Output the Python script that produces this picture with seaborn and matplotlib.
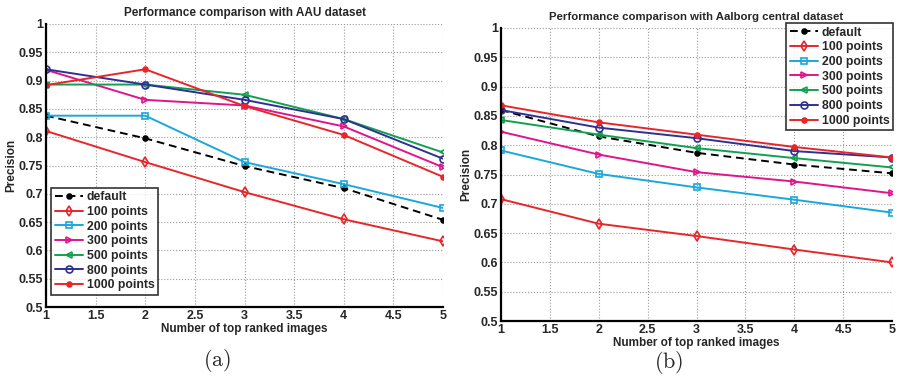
import numpy as np
import pandas as pd
import matplotlib
matplotlib.use("Agg")
import matplotlib.pyplot as plt
import seaborn as sns

# top-ranked image count on x axis
x_vals = [1, 2, 3, 4, 5]
series_names = ["default", "100 points", "200 points", "300 points",
                "500 points", "800 points", "1000 points"]

# (a) AAU dataset
aau_default = [0.838, 0.798, 0.749, 0.710, 0.654]
aau_100 = [0.811, 0.756, 0.703, 0.655, 0.616]
aau_200 = [0.838, 0.838, 0.756, 0.717, 0.675]
aau_300 = [0.919, 0.866, 0.856, 0.819, 0.747]
aau_500 = [0.893, 0.893, 0.875, 0.832, 0.773]
aau_800 = [0.920, 0.893, 0.866, 0.832, 0.762]
aau_1000 = [0.892, 0.920, 0.855, 0.804, 0.730]

# (b) Aalborg central dataset
aal_default = [0.860, 0.815, 0.787, 0.767, 0.752]
aal_100 = [0.708, 0.666, 0.645, 0.622, 0.600]
aal_200 = [0.791, 0.751, 0.728, 0.707, 0.685]
aal_300 = [0.823, 0.784, 0.754, 0.738, 0.718]
aal_500 = [0.843, 0.818, 0.795, 0.778, 0.762]
aal_800 = [0.860, 0.830, 0.812, 0.790, 0.779]
aal_1000 = [0.868, 0.839, 0.818, 0.797, 0.779]

aau = [aau_default, aau_100, aau_200, aau_300, aau_500, aau_800, aau_1000]
aal = [aal_default, aal_100, aal_200, aal_300, aal_500, aal_800, aal_1000]

colors = ["black", "#e8262a", "#1aa8dc", "#e0148c", "#12a050", "#2e3192", "#e8262a"]
markers = ["o", "d", "s", ">", "<", "o", "o"]
filled = [True, False, False, False, False, False, True]
msizes = [3.5, 5, 4.5, 5, 5, 5, 3.5]
dashes = [(4, 2.5), "", "", "", "", "", ""]

sns.set_style("white")
plt.rcParams["font.family"] = ["Liberation Sans", "DejaVu Sans"]
plt.rcParams["font.weight"] = "bold"
plt.rcParams["mathtext.fontset"] = "cm"

fig = plt.figure(figsize=(8.99, 3.86), dpi=100)
ax1 = fig.add_axes([46 / 899, 1 - 307 / 386, 397 / 899, 283 / 386])
ax2 = fig.add_axes([501 / 899, 1 - 321 / 386, 391 / 899, 293 / 386])


def draw(ax, data, title, title_size, legend_loc, legend_anchor):
    for i, name in enumerate(series_names):
        df = pd.DataFrame({"x": x_vals, "y": data[i]})
        mfc = colors[i] if filled[i] else "none"
        sns.lineplot(data=df, x="x", y="y", ax=ax, color=colors[i],
                     marker=markers[i], markersize=msizes[i], markerfacecolor=mfc,
                     markeredgecolor=colors[i], markeredgewidth=1.2,
                     linewidth=1.4, label=name)
        if dashes[i]:
            ax.lines[-1].set_dashes(dashes[i])
    ax.set_xlim(1, 5)
    ax.set_ylim(0.5, 1.0)
    xt = np.arange(1, 5.01, 0.5)
    yt = np.arange(0.5, 1.001, 0.05)
    ax.set_xticks(xt)
    ax.set_yticks(yt)
    ax.set_xticklabels([f"{v:g}" for v in xt])
    ax.set_yticklabels([f"{v:.2f}".rstrip("0").rstrip(".") for v in yt])
    ax.grid(True, linestyle=":", color="#999999", linewidth=0.8)
    for s in ["top", "right"]:
        ax.spines[s].set_visible(False)
    for s in ["left", "bottom"]:
        ax.spines[s].set_linewidth(1.6)
        ax.spines[s].set_color("black")
    ax.tick_params(direction="in", length=3, width=1.2, labelsize=9, pad=2)
    for lab in ax.get_xticklabels() + ax.get_yticklabels():
        lab.set_fontweight("bold")
    ax.set_title(title, fontsize=title_size, fontweight="bold", pad=6)
    ax.set_xlabel("Number of top ranked images", fontsize=8.5, fontweight="bold", labelpad=1)
    ax.set_ylabel("Precision", fontsize=8.5, fontweight="bold")
    ax.yaxis.set_label_coords(-0.073, 0.5)
    leg = ax.legend(loc=legend_loc, bbox_to_anchor=legend_anchor, fontsize=8.8,
                    frameon=True, fancybox=False, edgecolor="black",
                    handlelength=2.3, labelspacing=0.22, borderpad=0.3,
                    handletextpad=0.3, borderaxespad=0)
    leg.get_frame().set_linewidth(1.2)
    for t in leg.get_texts():
        t.set_fontweight("bold")


draw(ax1, aau, "Performance comparison with AAU dataset", 8.5,
     "lower left", (0.013, 0.042))
draw(ax2, aal, "Performance comparison with Aalborg central dataset", 8.2,
     "upper right", (1.003, 1.017))

fig.text(217 / 899, 1 - 361 / 386, r"$\mathrm{(a)}$", fontsize=16,
         ha="center", va="center")
fig.text(669 / 899, 1 - 363 / 386, r"$\mathrm{(b)}$", fontsize=16,
         ha="center", va="center")

fig.savefig("out.png", dpi=100)
